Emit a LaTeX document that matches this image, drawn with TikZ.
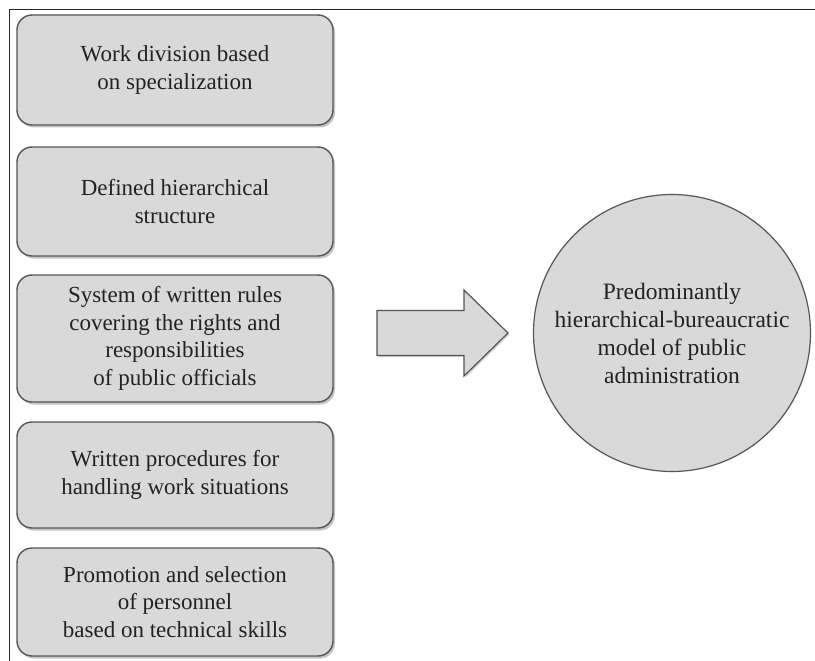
\documentclass[tikz,border=0pt]{standalone}
\usepackage{fontspec}
\setmainfont{Liberation Serif}
\usetikzlibrary{shadows}
\definecolor{boxfill}{HTML}{D9D9D9}
\definecolor{boxline}{HTML}{555555}
\definecolor{txt}{HTML}{222222}
\begin{document}
\begin{tikzpicture}[x=1pt,y=-1pt,
  featbox/.style={draw=boxline, line width=1.4pt, fill=boxfill, rounded corners=15pt,
    minimum width=316pt, align=center, text=txt, inner sep=2pt,
    font=\fontsize{23}{27.5}\selectfont,
    drop shadow={shadow xshift=2pt, shadow yshift=-2.5pt, opacity=0.45, fill=gray}},
  bigcircle/.style={circle, draw=boxline, line width=1.2pt, fill=boxfill, minimum size=277pt,
    align=center, text=txt, inner sep=0pt, font=\fontsize{23.5}{28}\selectfont},
  blockarrow/.style={draw=boxline, line width=1.2pt, fill=boxfill, line join=miter,
    drop shadow={shadow xshift=1.5pt, shadow yshift=-1.5pt, opacity=0.35, fill=gray}},
  frameline/.style={draw=black!85, line width=1.5pt}
]
\useasboundingbox (0,0) rectangle (815,661);
\fill[white] (0,0) rectangle (815,661);
\coordinate (fb) at (9.5,661);
\coordinate (fc) at (9.5,9.5);
\coordinate (fr) at (815,9.5);
\draw[frameline] (fb) -- (fc) -- (fr);

\node[featbox, minimum height=110pt] (b1) at (175,70) {Work division based\\on specialization};
\node[featbox, minimum height=109pt] (b2) at (175,201.5) {Defined hierarchical\\structure};
\node[featbox, minimum height=127pt] (b3) at (175,338.5) {System of written rules\\covering the rights and\\responsibilities\\of public officials};
\node[featbox, minimum height=106pt] (b4) at (175,475) {Written procedures for\\handling work situations};
\node[featbox, minimum height=108pt] (b5) at (175,602) {Promotion and selection\\of personnel\\based on technical skills};

\coordinate (a1) at (377,310.5);
\coordinate (a2) at (464,310.5);
\coordinate (a3) at (464,290);
\coordinate (a4) at (508,333);
\coordinate (a5) at (464,376);
\coordinate (a6) at (464,355.5);
\coordinate (a7) at (377,355.5);
\path[blockarrow] (a1) -- (a2) -- (a3) -- (a4) -- (a5) -- (a6) -- (a7) -- cycle;

\node[bigcircle] (c) at (672,333) {Predominantly\\hierarchical-bureaucratic\\model of public\\administration};
\end{tikzpicture}
\end{document}
